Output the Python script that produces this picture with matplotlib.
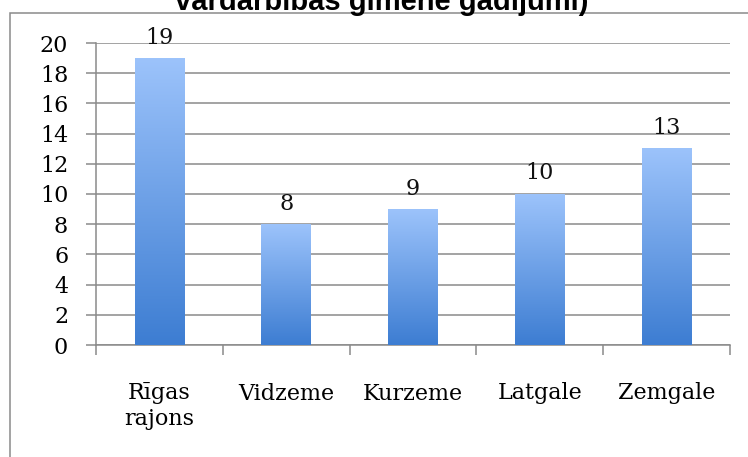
import matplotlib.pyplot as plt
import numpy as np
from matplotlib.colors import LinearSegmentedColormap
from matplotlib.patches import Rectangle

regions = ['Rīgas\nrajons', 'Vidzeme', 'Kurzeme', 'Latgale', 'Zemgale']
cases = [19, 8, 9, 10, 13]
y_ticks = list(range(0, 21, 2))
title = 'vardarbības ģimenē gadījumi)'

grid_col = '#8a8a8a'
serif = ['DejaVu Serif']
fs = 16

fig = plt.figure(figsize=(7.48, 4.57), dpi=100)
ax = fig.add_axes([96/748, 1 - 345/457, 634/748, 302/457])

# outer chart frame (runs off the right and bottom edges)
fig.patches.append(Rectangle((10/748, -0.1), 1.2, 1 - 13/457 + 0.1,
                             transform=fig.transFigure, fill=False,
                             edgecolor=grid_col, lw=1.1))

fig.text(382/748, 1 - 10/457, title, ha='center', va='baseline',
         fontsize=21, fontweight='bold', family='Liberation Sans')

cmap = LinearSegmentedColormap.from_list('bar', ['#3d7dd2', '#9cc3fb'])
grad = np.linspace(0, 1, 256).reshape(-1, 1)
width = 0.39
x = np.arange(len(cases))
bars = ax.bar(x, cases, width=width, color='none', zorder=3)
for b, v in zip(bars, cases):
    x0 = b.get_x()
    ax.imshow(grad, extent=[x0, x0 + width, 0, v], origin='lower',
              aspect='auto', cmap=cmap, zorder=3)
    ax.annotate(str(v), (b.get_x() + width / 2, v), xytext=(0, 10.5),
                textcoords='offset points', ha='center', va='baseline',
                fontsize=fs, family=serif, color='#111111')

ax.set_xlim(-0.5, len(cases) - 0.5)
ax.set_ylim(0, 20)
ax.set_yticks(y_ticks)
ax.set_yticklabels([str(t) for t in y_ticks], family=serif, fontsize=fs)
ax.set_xticks(x)
ax.set_xticklabels(regions, family=serif, fontsize=fs, linespacing=1.2)
ax.set_xticks(np.arange(-0.5, len(cases)), minor=True)
ax.tick_params(axis='x', which='major', length=0, pad=27)
ax.tick_params(axis='x', which='minor', length=7, width=1.1, color=grid_col)
ax.tick_params(axis='y', length=7, width=1.1, color=grid_col, pad=13)
ax.yaxis.grid(True, color=grid_col, lw=1.1, zorder=0)
ax.set_axisbelow(True)
for s in ['top', 'right']:
    ax.spines[s].set_visible(False)
for s in ['left', 'bottom']:
    ax.spines[s].set_color(grid_col)
    ax.spines[s].set_linewidth(1.1)

fig.savefig('out.png', dpi=100)
